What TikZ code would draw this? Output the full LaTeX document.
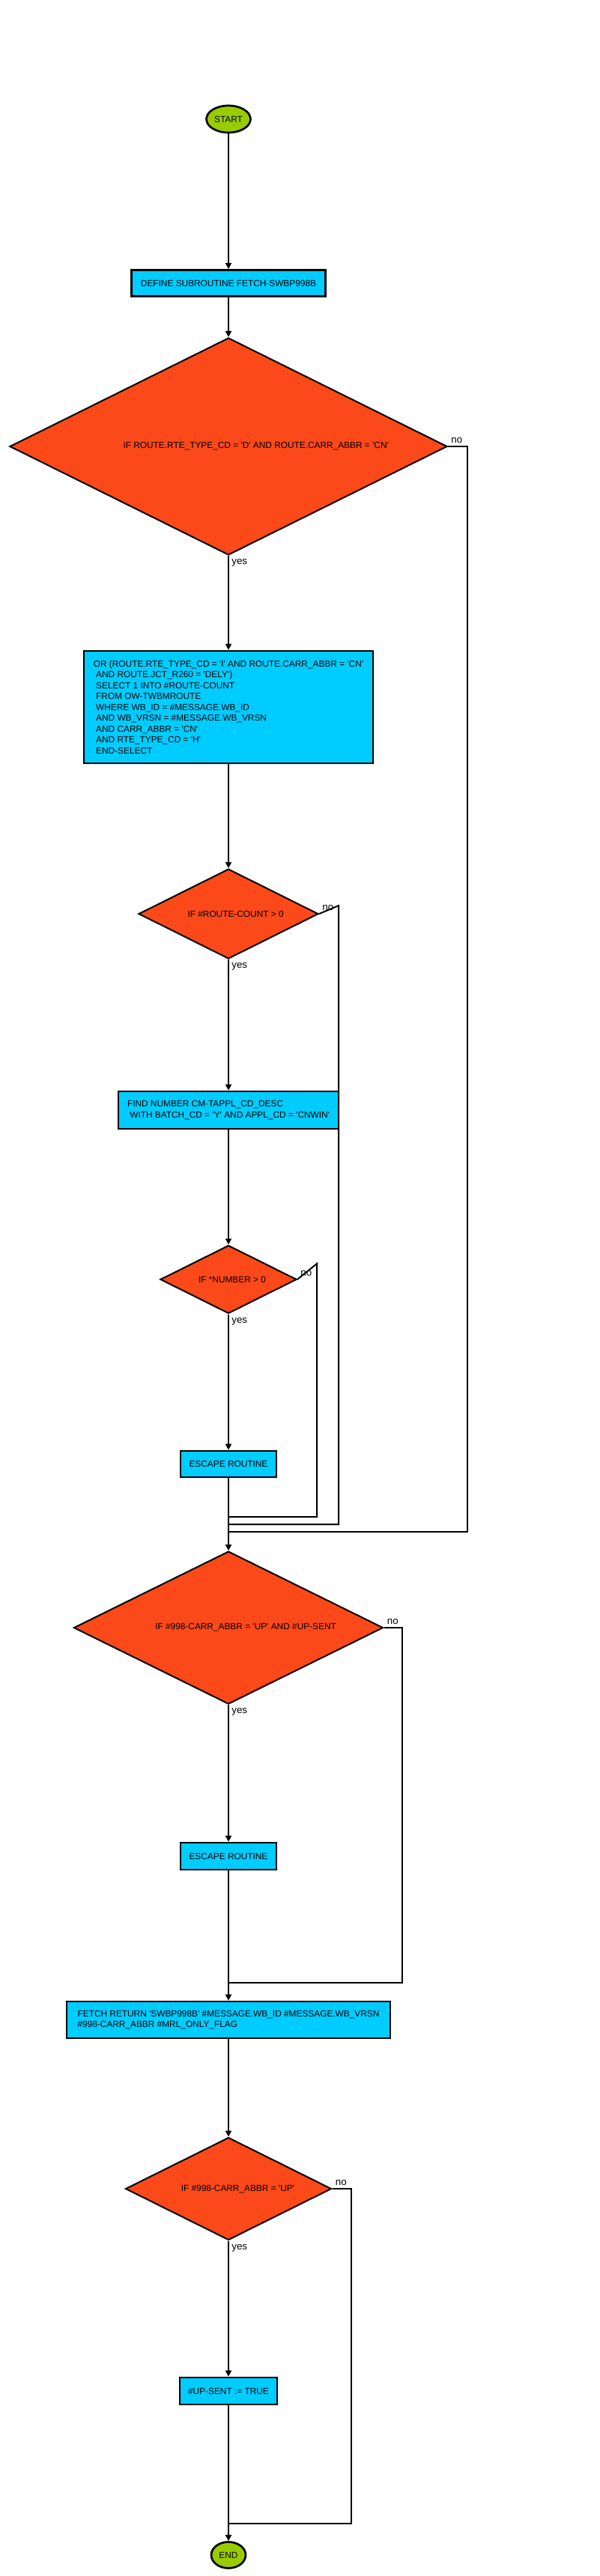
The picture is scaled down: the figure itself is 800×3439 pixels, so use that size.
\documentclass[tikz,border=0pt]{standalone}
\usepackage{fontspec}
\newfontfamily\flowfont{Liberation Sans}
\usetikzlibrary{shapes.geometric,arrows.meta,calc}
\definecolor{termgreen}{RGB}{153,204,0}
\definecolor{boxcyan}{RGB}{0,204,255}
\definecolor{decorange}{RGB}{252,73,25}
\newcommand{\indentsp}{\hspace*{2.5pt}}
\tikzset{every picture/.style={line width=1.5pt}}

\begin{document}
\begin{tikzpicture}[x=0.75pt,y=0.75pt,yscale=-1,xscale=1,
  term/.style={ellipse,draw,line width=2pt,fill=termgreen,inner sep=0pt,font=\flowfont\fontsize{8.9}{11}\selectfont},
  proc/.style={rectangle,draw,line width=2pt,fill=boxcyan,inner sep=0pt,align=center,font=\flowfont\fontsize{8.9}{10.9}\selectfont},
  proctext/.style={proc,align=left},
  decision/.style={diamond,draw,fill=decorange,inner sep=0pt},
  dtext/.style={anchor=west,inner sep=3.75pt,font=\flowfont\fontsize{8.9}{11}\selectfont},
  flow/.style={-{Triangle[length=6pt,width=6pt]}},
  yeslbl/.style={pos=0,anchor=north west,inner sep=2.5pt,font=\flowfont\fontsize{10}{12}\selectfont},
  nolbl/.style={pos=0,anchor=south west,inner sep=2.5pt,font=\flowfont\fontsize{10}{12}\selectfont}]
%set diagram size to 800 x 3439
\useasboundingbox (0,0) rectangle (800,3439);

%Shape: Terminator
\node[term,minimum width=44.25pt,minimum height=27pt] (start) at (305,159) {START};
%Shape: Process
\node[proc,minimum width=194.25pt,minimum height=26.25pt] (def) at (305,378) {DEFINE SUBROUTINE FETCH-SWBP998B};
%Shape: Decision
\node[decision,minimum width=438pt,minimum height=217.5pt] (d1) at (305,596) {};
% Text Node
\node[dtext] (t1) at ($(d1.west)!0.25!(d1.east)$) {IF ROUTE.RTE\_TYPE\_CD = 'D' AND ROUTE.CARR\_ABBR = 'CN'};
%Shape: Process
\node[proctext,minimum width=289.5pt,minimum height=112.5pt] (sql) at (305,944) {OR (ROUTE.RTE\_TYPE\_CD = 'I' AND ROUTE.CARR\_ABBR = 'CN'\\
\indentsp AND ROUTE.JCT\_R260 = 'DELY')\\
\indentsp SELECT 1 INTO \#ROUTE-COUNT\\
\indentsp FROM OW-TWBMROUTE\\
\indentsp WHERE WB\_ID = \#MESSAGE.WB\_ID\\
\indentsp AND WB\_VRSN = \#MESSAGE.WB\_VRSN\\
\indentsp AND CARR\_ABBR = 'CN'\\
\indentsp AND RTE\_TYPE\_CD = 'H'\\
\indentsp END-SELECT};
%Shape: Decision
\node[decision,minimum width=180pt,minimum height=90pt] (d2) at (305,1220) {};
% Text Node
\node[dtext] (t2) at ($(d2.west)!0.25!(d2.east)$) {IF \#ROUTE-COUNT > 0};
%Shape: Process
\node[proctext,minimum width=220.5pt,minimum height=37.5pt] (find) at (305,1482) {FIND NUMBER CM-TAPPL\_CD\_DESC\\
\indentsp WITH BATCH\_CD = 'Y' AND APPL\_CD = 'CNWIN'};
%Shape: Decision
\node[decision,minimum width=136.5pt,minimum height=68.25pt] (d3) at (305,1708) {};
% Text Node
\node[dtext] (t3) at ($(d3.west)!0.25!(d3.east)$) {IF *NUMBER > 0};
%Shape: Process
\node[proc,minimum width=96pt,minimum height=26.25pt] (esc1) at (305,1954.5) {ESCAPE ROUTINE};
%Shape: Decision
\node[decision,minimum width=309.75pt,minimum height=153pt] (d4) at (305,2173) {};
% Text Node
\node[dtext] (t4) at ($(d4.west)!0.25!(d4.east)$) {IF \#998-CARR\_ABBR = 'UP' AND \#UP-SENT};
%Shape: Process
\node[proc,minimum width=96pt,minimum height=27pt] (esc2) at (305,2478) {ESCAPE ROUTINE};
%Shape: Process
\node[proctext,minimum width=324pt,minimum height=36.75pt] (fetch) at (305,2696.5) {FETCH RETURN 'SWBP998B' \#MESSAGE.WB\_ID \#MESSAGE.WB\_VRSN\\
\#998-CARR\_ABBR \#MRL\_ONLY\_FLAG};
%Shape: Decision
\node[decision,minimum width=206.25pt,minimum height=102.75pt] (d5) at (305,2922) {};
% Text Node
\node[dtext] (t5) at ($(d5.west)!0.25!(d5.east)$) {IF \#998-CARR\_ABBR = 'UP'};
%Shape: Process
\node[proc,minimum width=97.5pt,minimum height=27pt] (upsent) at (305,3192) {\#UP-SENT := TRUE};
%Shape: Terminator
\node[term,minimum width=34.5pt,minimum height=26.25pt] (end) at (305,3411) {END};

%Join points on the main line
\coordinate (j3) at (305,2025);
\coordinate (j2) at (305,2035);
\coordinate (j1) at (305,2045);
\coordinate (j4) at (305,2647);
\coordinate (j5) at (305,3369);

%Main flow
\draw[flow] (start) -- (def);
\draw[flow] (def) -- (d1);
\draw[flow] (d1) -- node[yeslbl] {yes} (sql);
\draw[flow] (sql) -- (d2);
\draw[flow] (d2) -- node[yeslbl] {yes} (find);
\draw[flow] (find) -- (d3);
\draw[flow] (d3) -- node[yeslbl] {yes} (esc1);
\draw[flow] (esc1) -- (d4);
\draw[flow] (d4) -- node[yeslbl] {yes} (esc2);
\draw[flow] (esc2) -- (fetch);
\draw[flow] (fetch) -- (d5);
\draw[flow] (d5) -- node[yeslbl] {yes} (upsent);
\draw[flow] (upsent) -- (end);

%No branches
\draw (d1.east) -- node[nolbl] {no} ++(26,0) |- (j1);
\draw (d2.east) -- node[nolbl] {no} ++(26,-11) |- (j2);
\draw (d3.east) -- node[nolbl] {no} ++(26,-21) |- (j3);
\draw (d4.east) -- node[nolbl] {no} ++(24,0) |- (j4);
\draw (d5.east) -- node[nolbl] {no} ++(25,0) |- (j5);

\end{tikzpicture}
\end{document}
